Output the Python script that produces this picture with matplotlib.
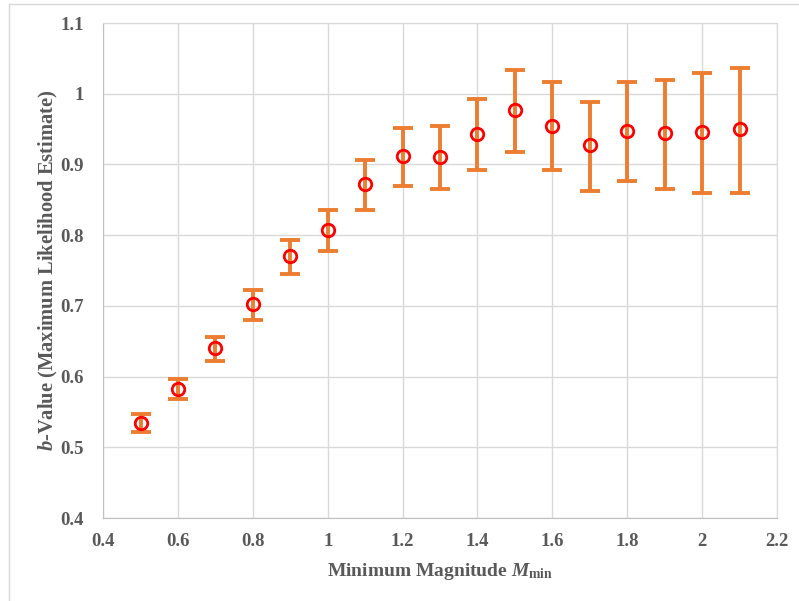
import matplotlib
matplotlib.use('Agg')
import matplotlib.pyplot as plt
from matplotlib.lines import Line2D
import numpy as np

# b-value estimates per minimum magnitude, with asymmetric error bounds
m_min = [0.5, 0.6, 0.7, 0.8, 0.9, 1.0, 1.1, 1.2, 1.3, 1.4, 1.5, 1.6, 1.7, 1.8, 1.9, 2.0, 2.1]
b_value = [0.534, 0.582, 0.640, 0.702, 0.770, 0.807, 0.873, 0.912, 0.910, 0.943,
           0.977, 0.955, 0.927, 0.948, 0.944, 0.946, 0.950]
b_upper = [0.547, 0.597, 0.656, 0.722, 0.793, 0.836, 0.907, 0.952, 0.954, 0.993,
           1.034, 1.016, 0.988, 1.016, 1.019, 1.029, 1.036]
b_lower = [0.521, 0.568, 0.622, 0.680, 0.745, 0.778, 0.836, 0.870, 0.866, 0.892,
           0.918, 0.892, 0.863, 0.876, 0.865, 0.860, 0.860]

x_ticks = [0.4, 0.6, 0.8, 1.0, 1.2, 1.4, 1.6, 1.8, 2.0, 2.2]
x_tick_labels = ['0.4', '0.6', '0.8', '1', '1.2', '1.4', '1.6', '1.8', '2', '2.2']
y_ticks = [0.4, 0.5, 0.6, 0.7, 0.8, 0.9, 1.0, 1.1]
y_tick_labels = ['0.4', '0.5', '0.6', '0.7', '0.8', '0.9', '1', '1.1']

plt.rcParams['font.family'] = ['Liberation Serif', 'DejaVu Serif']
plt.rcParams['mathtext.fontset'] = 'custom'
plt.rcParams['mathtext.rm'] = 'Liberation Serif:bold'
plt.rcParams['mathtext.it'] = 'Liberation Serif:italic:bold'
plt.rcParams['mathtext.bf'] = 'Liberation Serif:bold'

text_col = '#595959'
grid_col = '#D9D9D9'

fig = plt.figure(figsize=(7.99, 6.01), dpi=100)
ax = fig.add_axes([0.129, 0.138, 0.8435, 0.8237])

b = np.array(b_value)
yerr = [b - np.array(b_lower), np.array(b_upper) - b]
ax.errorbar(m_min, b_value, yerr=yerr, fmt='none', ecolor='#ED7D31',
            elinewidth=2.8, capsize=7, capthick=2.8, zorder=3)
ax.plot(m_min, b_value, 'o', mfc='none', mec='#FF0000', mew=2, ms=9, zorder=4)

ax.set_xlim(0.4, 2.2)
ax.set_ylim(0.4, 1.1)
ax.set_xticks(x_ticks)
ax.set_xticklabels(x_tick_labels)
ax.set_yticks(y_ticks)
ax.set_yticklabels(y_tick_labels)
ax.tick_params(length=0, colors=text_col, labelsize=13.5)
ax.tick_params(axis='x', pad=11)
ax.tick_params(axis='y', pad=14)
for lab in ax.get_xticklabels() + ax.get_yticklabels():
    lab.set_fontweight('bold')

ax.grid(True, color=grid_col, linewidth=1)
ax.set_axisbelow(True)
for s in ax.spines.values():
    s.set_color(grid_col)
ax.spines['left'].set_color('#BFBFBF')
ax.spines['bottom'].set_color('#BFBFBF')

ax.set_xlabel(r'Minimum Magnitude $M_{\mathrm{min}}$', color=text_col,
              fontsize=14, fontweight='bold', labelpad=8)
ax.set_ylabel(r'$b$-Value (Maximum Likelihood Estimate)', color=text_col,
              fontsize=14.8, fontweight='bold', labelpad=0)

# chart area border
fig.add_artist(Line2D([9 / 799, 9 / 799], [0, 1 - 4 / 601], color=grid_col, lw=1))
fig.add_artist(Line2D([9 / 799, 1], [1 - 4 / 601, 1 - 4 / 601], color=grid_col, lw=1))

fig.savefig('out.png', dpi=100)
